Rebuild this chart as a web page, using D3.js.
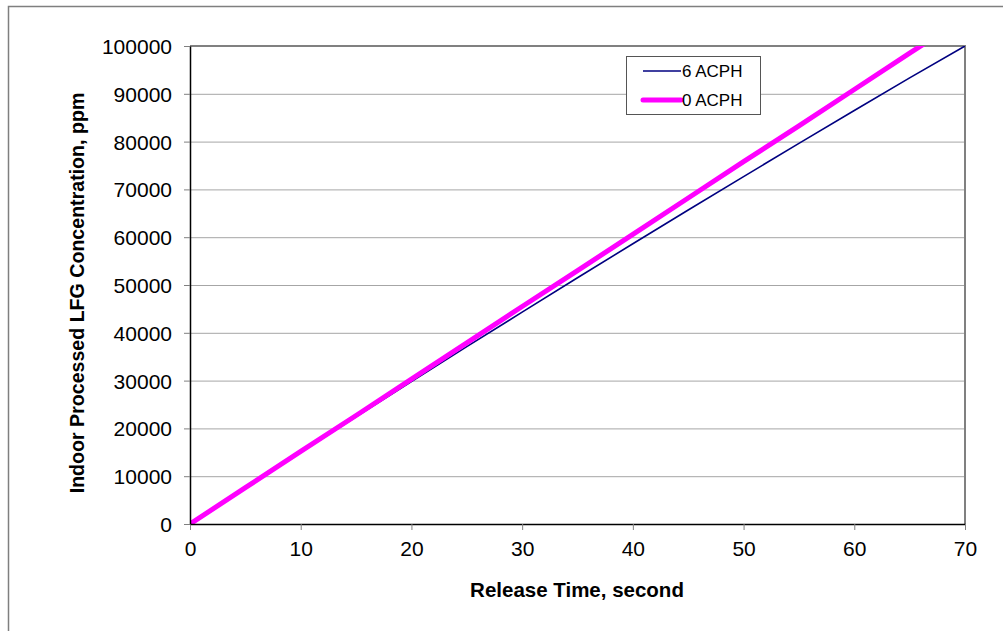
<!DOCTYPE html>
<html>
<head>
<meta charset="utf-8">
<script src="https://cdn.jsdelivr.net/npm/d3@7"></script>
<style>
  body { margin: 0; background: #fff; }
  svg { display: block; font-family: "Liberation Sans", Arial, sans-serif; }
</style>
</head>
<body>
<div class="js-vis"></div>
<script>
// release time, seconds
const times = [0, 5, 10, 15, 20, 25, 30, 35, 40, 45, 50, 55, 60, 65, 70]
// concentration, ppm
const acph6 = [0, 7540, 15020, 22440, 29800, 37100, 44330, 51510, 58630, 65680, 72680, 79620, 86510, 93330, 100000]
const acph0 = [0, 7600, 15200, 22700, 30300, 37900, 45500, 53000, 60600, 68200, 75800, 83300, 90900, 98500, 106000]

const series = [
  { name: "6 ACPH", values: acph6, color: "#000080", width: 1.6 },
  { name: "0 ACPH", values: acph0, color: "#ff00ff", width: 5 }
]

const xTicks = d3.range(0, 71, 10)
const yTicks = d3.range(0, 100001, 10000)

const W = 1003, H = 631
const margin = { top: 46, right: 38, bottom: 107, left: 190 },
    width = W - margin.left - margin.right,
    height = H - margin.top - margin.bottom

const x = d3.scaleLinear().domain([0, 70]).range([0, width])
const y = d3.scaleLinear().domain([0, 100000]).range([height, 0])

const svg = d3.select(".js-vis").append("svg")
  .attr("width", W)
  .attr("height", H)

// outer chart frame
svg.append("rect")
  .attr("x", 8.5).attr("y", 6.5)
  .attr("width", W + 20).attr("height", H + 20)
  .attr("fill", "none")
  .attr("stroke", "#7f7f7f")
  .attr("stroke-width", 1.5)

const vis = svg.append("g")
  .attr("transform", "translate(" + margin.left + "," + margin.top + ")")

// gridlines
vis.append("g")
  .selectAll("line")
  .data(yTicks.slice(1, -1))
.enter().append("line")
  .attr("x1", 0).attr("x2", width)
  .attr("y1", d => y(d) + 0.5).attr("y2", d => y(d) + 0.5)
  .attr("stroke", "#a6a6a6")
  .attr("stroke-width", 1)

// top and right borders of the plot
vis.append("path")
  .attr("d", "M0," + y(100000) + "H" + x(70) + "V" + height)
  .attr("fill", "none")
  .attr("stroke", "#808080")
  .attr("stroke-width", 2)

vis.append("clipPath").attr("id", "clip")
.append("rect")
  .attr("width", width).attr("height", height)

const line = d3.line()
  .x((d, i) => x(times[i]))
  .y(d => y(d))

vis.append("g")
  .attr("clip-path", "url(#clip)")
  .selectAll("path")
  .data(series)
.enter().append("path")
  .attr("d", d => line(d.values))
  .attr("fill", "none")
  .attr("stroke", d => d.color)
  .attr("stroke-width", d => d.width)

// axes
const xax = d3.axisBottom(x).tickValues(xTicks).tickSize(6).tickSizeOuter(0).tickPadding(11),
    yax = d3.axisLeft(y).tickValues(yTicks).tickFormat(d3.format("d")).tickSize(6).tickSizeOuter(0).tickPadding(12)

const gx = vis.append("g")
  .attr("transform", "translate(0," + height + ")")
  .call(xax)
const gy = vis.append("g")
  .call(yax)

;[gx, gy].forEach(g => {
  g.select(".domain").attr("stroke", "#000").attr("stroke-width", 1.5)
  g.selectAll(".tick line").attr("stroke", "#808080")
  g.selectAll(".tick text")
    .attr("font-size", 21)
    .attr("font-family", "Liberation Sans, Arial, sans-serif")
    .attr("fill", "#000")
})
gy.selectAll(".tick text").attr("dy", "0.36em")

// axis titles
svg.append("text")
  .attr("x", 577).attr("y", 597)
  .attr("text-anchor", "middle")
  .attr("font-size", 20.5)
  .attr("font-weight", "bold")
  .text("Release Time, second")

svg.append("text")
  .attr("transform", "translate(84," + (margin.top + height / 2 + 8) + ") rotate(-90)")
  .attr("text-anchor", "middle")
  .attr("font-size", 19.6)
  .attr("font-weight", "bold")
  .text("Indoor Processed LFG Concentration, ppm")

// legend
const lg = svg.append("g").attr("transform", "translate(626,56)")
lg.append("rect")
  .attr("x", 0.5).attr("y", 0.5)
  .attr("width", 134).attr("height", 58)
  .attr("fill", "#fff")
  .attr("stroke", "#555")
  .attr("stroke-width", 1)

const item = lg.selectAll(".item")
  .data(series)
.enter().append("g")
  .attr("transform", (d, i) => "translate(0," + (15 + i * 29) + ")")
item.append("line")
  .attr("x1", 17).attr("x2", 55)
  .attr("stroke", d => d.color)
  .attr("stroke-width", d => d.width)
  .attr("stroke-linecap", d => d.width > 2 ? "round" : "butt")
item.append("text")
  .attr("x", 56).attr("y", 6)
  .attr("font-size", 17)
  .text(d => d.name)
</script>
</body>
</html>
